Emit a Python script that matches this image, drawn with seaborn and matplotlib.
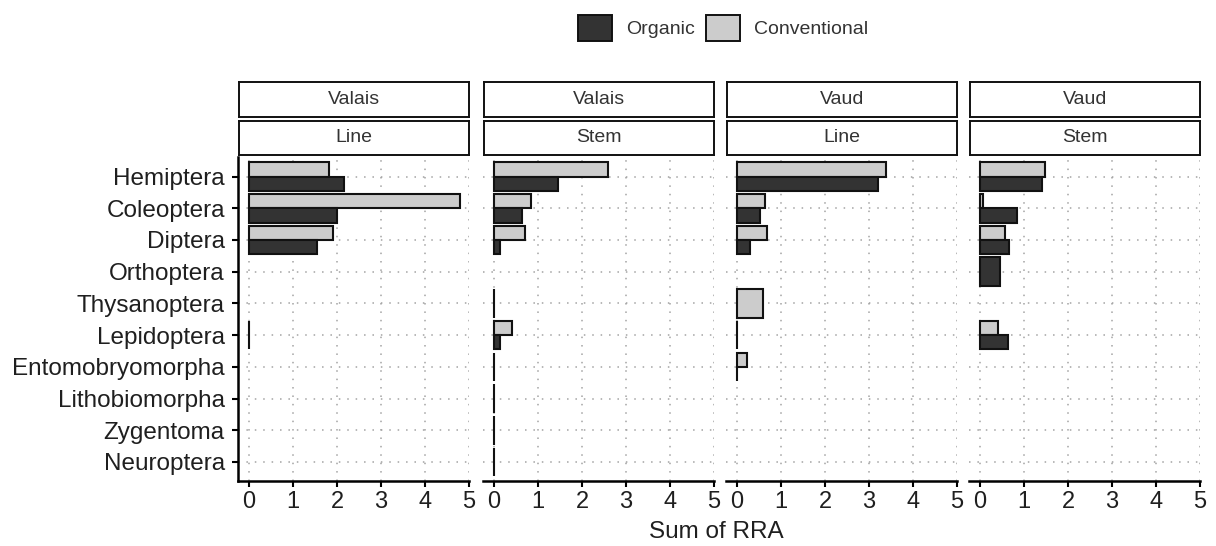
import numpy as np
import pandas as pd
import seaborn as sns
import matplotlib.pyplot as plt
from matplotlib.patches import Patch

nan = np.nan

# Insect orders shown on the y axis, top to bottom
orders = ["Hemiptera", "Coleoptera", "Diptera", "Orthoptera", "Thysanoptera",
          "Lepidoptera", "Entomobryomorpha", "Lithobiomorpha", "Zygentoma",
          "Neuroptera"]

# Sum of relative read abundance per order (NaN = order not detected)
valais_line_conventional = [1.82, 4.79, 1.92, nan, nan, nan, nan, nan, nan, nan]
valais_line_organic = [2.15, 2.00, 1.55, nan, nan, 0.01, nan, nan, nan, nan]

valais_stem_conventional = [2.60, 0.84, 0.70, nan, nan, 0.40, nan, nan, nan, nan]
valais_stem_organic = [1.46, 0.64, 0.14, nan, 0.01, 0.13, 0.01, 0.01, 0.01, 0.01]

vaud_line_conventional = [3.38, 0.63, 0.69, nan, 0.58, nan, 0.23, nan, nan, nan]
vaud_line_organic = [3.20, 0.52, 0.29, nan, nan, 0.01, 0.01, nan, nan, nan]

vaud_stem_conventional = [1.48, 0.07, 0.57, nan, nan, 0.40, nan, nan, nan, nan]
vaud_stem_organic = [1.40, 0.85, 0.67, 0.46, nan, 0.64, nan, nan, nan, nan]

panels = [
    ("Valais", "Line", valais_line_conventional, valais_line_organic),
    ("Valais", "Stem", valais_stem_conventional, valais_stem_organic),
    ("Vaud", "Line", vaud_line_conventional, vaud_line_organic),
    ("Vaud", "Stem", vaud_stem_conventional, vaud_stem_organic),
]

x_ticks = [0, 1, 2, 3, 4, 5]

palette = {"Organic": "#333333", "Conventional": "#cccccc"}
hue_order = ["Conventional", "Organic"]

sns.set_theme(style="white")
plt.rcParams["font.family"] = ["Liberation Sans", "DejaVu Sans"]

W, H = 1216, 546
fig = plt.figure(figsize=(W / 100, H / 100), dpi=100)


def fx(px):
    return px / W


def fy(py):
    return 1 - py / H


panel_left = [238, 483, 726, 969]
panel_w = 231
panel_top, panel_bottom = 157.5, 481
text_col = "#1f1f1f"

bar_kw = dict(y="order", x="rra", hue="system", order=orders,
              hue_order=hue_order, palette=palette, width=0.9,
              edgecolor="#111111", linewidth=1.5, orient="h",
              saturation=1, errorbar=None, legend=False)

for i, (region, site, conv, org) in enumerate(panels):
    ax = fig.add_axes([fx(panel_left[i]), fy(panel_bottom),
                       panel_w / W, (panel_bottom - panel_top) / H])
    df = pd.DataFrame({
        "order": orders * 2,
        "system": ["Conventional"] * len(orders) + ["Organic"] * len(orders),
        "rra": list(conv) + list(org),
    }).dropna()
    n_per_order = df.groupby("order")["system"].transform("size")
    paired = df[n_per_order == 2]
    single = df[n_per_order == 1]
    # Orders with both systems are dodged; a lone system fills the slot
    if len(paired):
        sns.barplot(data=paired, dodge=True, ax=ax, **bar_kw)
    if len(single):
        sns.barplot(data=single, dodge=False, ax=ax, **bar_kw)

    ax.set_xlim(-0.25, 5)
    ax.set_ylim(len(orders) - 0.4, -0.6)
    ax.set_xticks(x_ticks)
    ax.set_yticks(range(len(orders)))
    ax.set_yticklabels(orders)
    ax.set_xlabel("")
    ax.set_ylabel("")
    ax.grid(True, linestyle=(0, (1, 4.5)), color="#a3a3a3", linewidth=1.1)
    ax.set_axisbelow(True)
    for s in ["top", "right"]:
        ax.spines[s].set_visible(False)
    ax.spines["bottom"].set_color("black")
    ax.spines["bottom"].set_linewidth(1.8)
    ax.tick_params(axis="x", bottom=True, length=4, width=1.5, color="black",
                   labelsize=17, labelcolor=text_col, pad=3)
    if i == 0:
        ax.spines["left"].set_color("black")
        ax.spines["left"].set_linewidth(1.8)
        ax.tick_params(axis="y", left=True, length=4, width=1.5,
                       color="black", labelsize=17.5, labelcolor=text_col,
                       pad=5.5)
    else:
        ax.spines["left"].set_visible(False)
        ax.tick_params(axis="y", left=False, labelleft=False)

    # Two-level facet strips above each panel
    for label, (y0, y1) in [(region, (82.3, 117.3)), (site, (120.7, 154.7))]:
        sax = fig.add_axes([fx(panel_left[i] + 1), fy(y1), 230 / W,
                            (y1 - y0) / H])
        sax.set_xticks([])
        sax.set_yticks([])
        sax.set_facecolor("white")
        for sp in sax.spines.values():
            sp.set_color("#111111")
            sp.set_linewidth(1.4)
        sax.text(0.5, 0.5, label, ha="center", va="center", fontsize=14,
                 color="#333333", transform=sax.transAxes)

fig.text(fx(716), fy(532), "Sum of RRA", ha="center", va="center",
         fontsize=17.5, color=text_col)

handles = [Patch(facecolor=palette["Organic"], edgecolor="#111111",
                 linewidth=1.4, label="Organic"),
           Patch(facecolor=palette["Conventional"], edgecolor="#111111",
                 linewidth=1.4, label="Conventional")]
leg = fig.legend(handles=handles, loc="center",
                 bbox_to_anchor=(fx(723), fy(28)), ncol=2, frameon=False,
                 fontsize=14, handlelength=1.75, handleheight=1.7,
                 handletextpad=0.7, columnspacing=0.6)
for t in leg.get_texts():
    t.set_color("#333333")

fig.savefig("out.png", dpi=100)
